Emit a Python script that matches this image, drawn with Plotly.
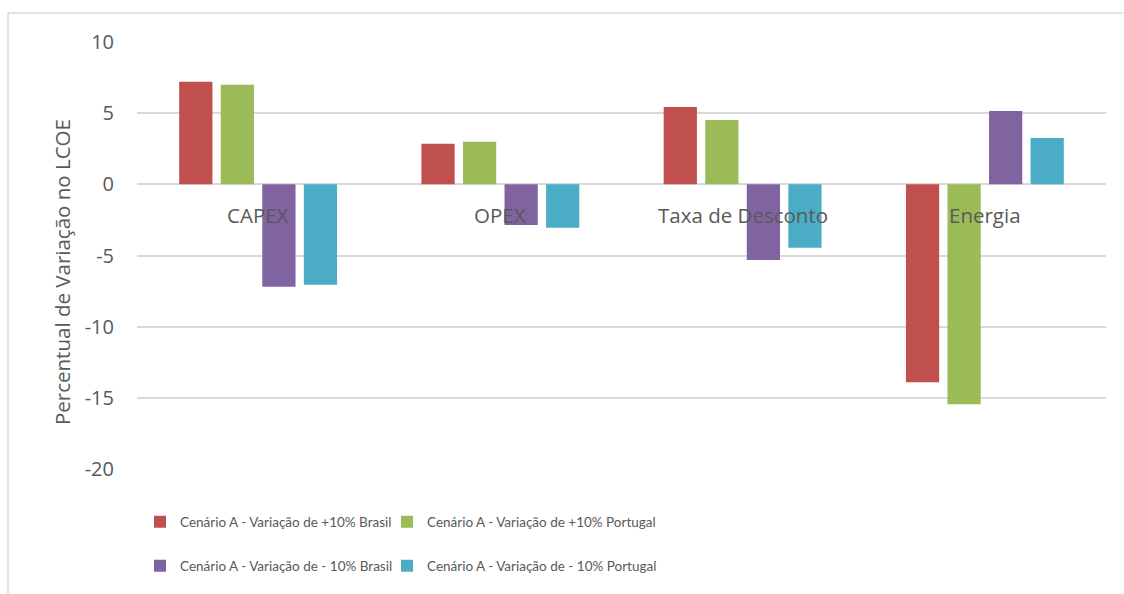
import plotly.graph_objects as go

# Sensitivity of LCOE to +/-10% changes in each input parameter
categories = ["CAPEX", "OPEX", "Taxa de Desconto", "Energia"]

series_names = [
    "Cenário A - Variação de +10% Brasil",
    "Cenário A - Variação de +10% Portugal",
    "Cenário A - Variação de - 10% Brasil",
    "Cenário A - Variação de - 10% Portugal",
]

plus10_brasil = [7.2, 2.85, 5.43, -13.9]
plus10_portugal = [7.0, 3.0, 4.52, -15.45]
minus10_brasil = [-7.2, -2.85, -5.32, 5.15]
minus10_portugal = [-7.05, -3.05, -4.45, 3.25]

y_ticks = [10, 5, 0, -5, -10, -15, -20]
y_title = "Percentual de Variação no LCOE"

colors = ["#C0504D", "#9BBB59", "#8064A2", "#4BACC6"]
text_color = "#595959"
grid_color = "#D9D9D9"
base_font = "Open Sans, Noto Sans, sans-serif"
legend_font = "Lato, sans-serif"

# Plot-area geometry in pixels (used to place paper-referenced items)
L, T, W, H = 137, 42, 969, 427


def px_x(x):
    return (x - L) / W


def px_y(y):
    return (T + H - y) / H


values = [plus10_brasil, plus10_portugal, minus10_brasil, minus10_portugal]
legend_ids = ["legend", "legend2", "legend3", "legend4"]

fig = go.Figure()
for name, vals, col, lg in zip(series_names, values, colors, legend_ids):
    fig.add_trace(go.Bar(
        x=categories, y=vals, name=name,
        marker=dict(color=col, line=dict(width=0)),
        legend=lg, showlegend=True,
    ))

# Category names sit just under the zero line
for cat in categories:
    fig.add_annotation(
        x=cat, y=0, xref="x", yref="y",
        text=cat, showarrow=False,
        yanchor="middle", yshift=-31,
        font=dict(family=base_font, size=20.5, color=text_color),
    )

# Y-axis title
fig.add_annotation(
    x=px_x(62), y=px_y(272), xref="paper", yref="paper",
    text=y_title, textangle=-90, showarrow=False,
    xanchor="center", yanchor="middle",
    font=dict(family=base_font, size=20.5, color=text_color),
)

# Thin frame along the top and left edges
fig.add_shape(type="line", xref="paper", yref="paper",
              x0=px_x(8), x1=px_x(1123), y0=px_y(13), y1=px_y(13),
              line=dict(color=grid_color, width=1.5))
fig.add_shape(type="line", xref="paper", yref="paper",
              x0=px_x(8), x1=px_x(8), y0=px_y(13), y1=px_y(600),
              line=dict(color=grid_color, width=1.5))


def legend_box(x_px, y_px):
    return dict(
        visible=True,
        orientation="h",
        x=px_x(x_px), xanchor="left",
        y=px_y(y_px), yanchor="middle",
        itemwidth=30,
        font=dict(family=legend_font, size=13.5, color=text_color),
        bgcolor="rgba(0,0,0,0)",
    )


fig.update_layout(
    width=1124, height=594,
    margin=dict(l=L, r=1124 - L - W, t=T, b=594 - T - H),
    paper_bgcolor="white", plot_bgcolor="white",
    showlegend=True,
    barmode="group", bargap=0.314, bargroupgap=0.2,
    font=dict(family=base_font, color=text_color),
    legend=legend_box(140, 522),
    legend2=legend_box(387, 522),
    legend3=legend_box(140, 566),
    legend4=legend_box(387, 566),
    xaxis=dict(
        showticklabels=False, showgrid=False, showline=False,
        zeroline=False, ticks="",
    ),
    yaxis=dict(
        range=[-20, 10], tickvals=y_ticks,
        ticktext=[str(v) for v in y_ticks],
        showgrid=True, gridcolor=grid_color, gridwidth=1.5,
        zeroline=True, zerolinecolor=grid_color, zerolinewidth=1.5,
        showline=False, ticks="", ticklen=0,
        ticklabelstandoff=22,
        tickfont=dict(family=base_font, size=20, color=text_color),
    ),
)

fig.write_html("out.html")
